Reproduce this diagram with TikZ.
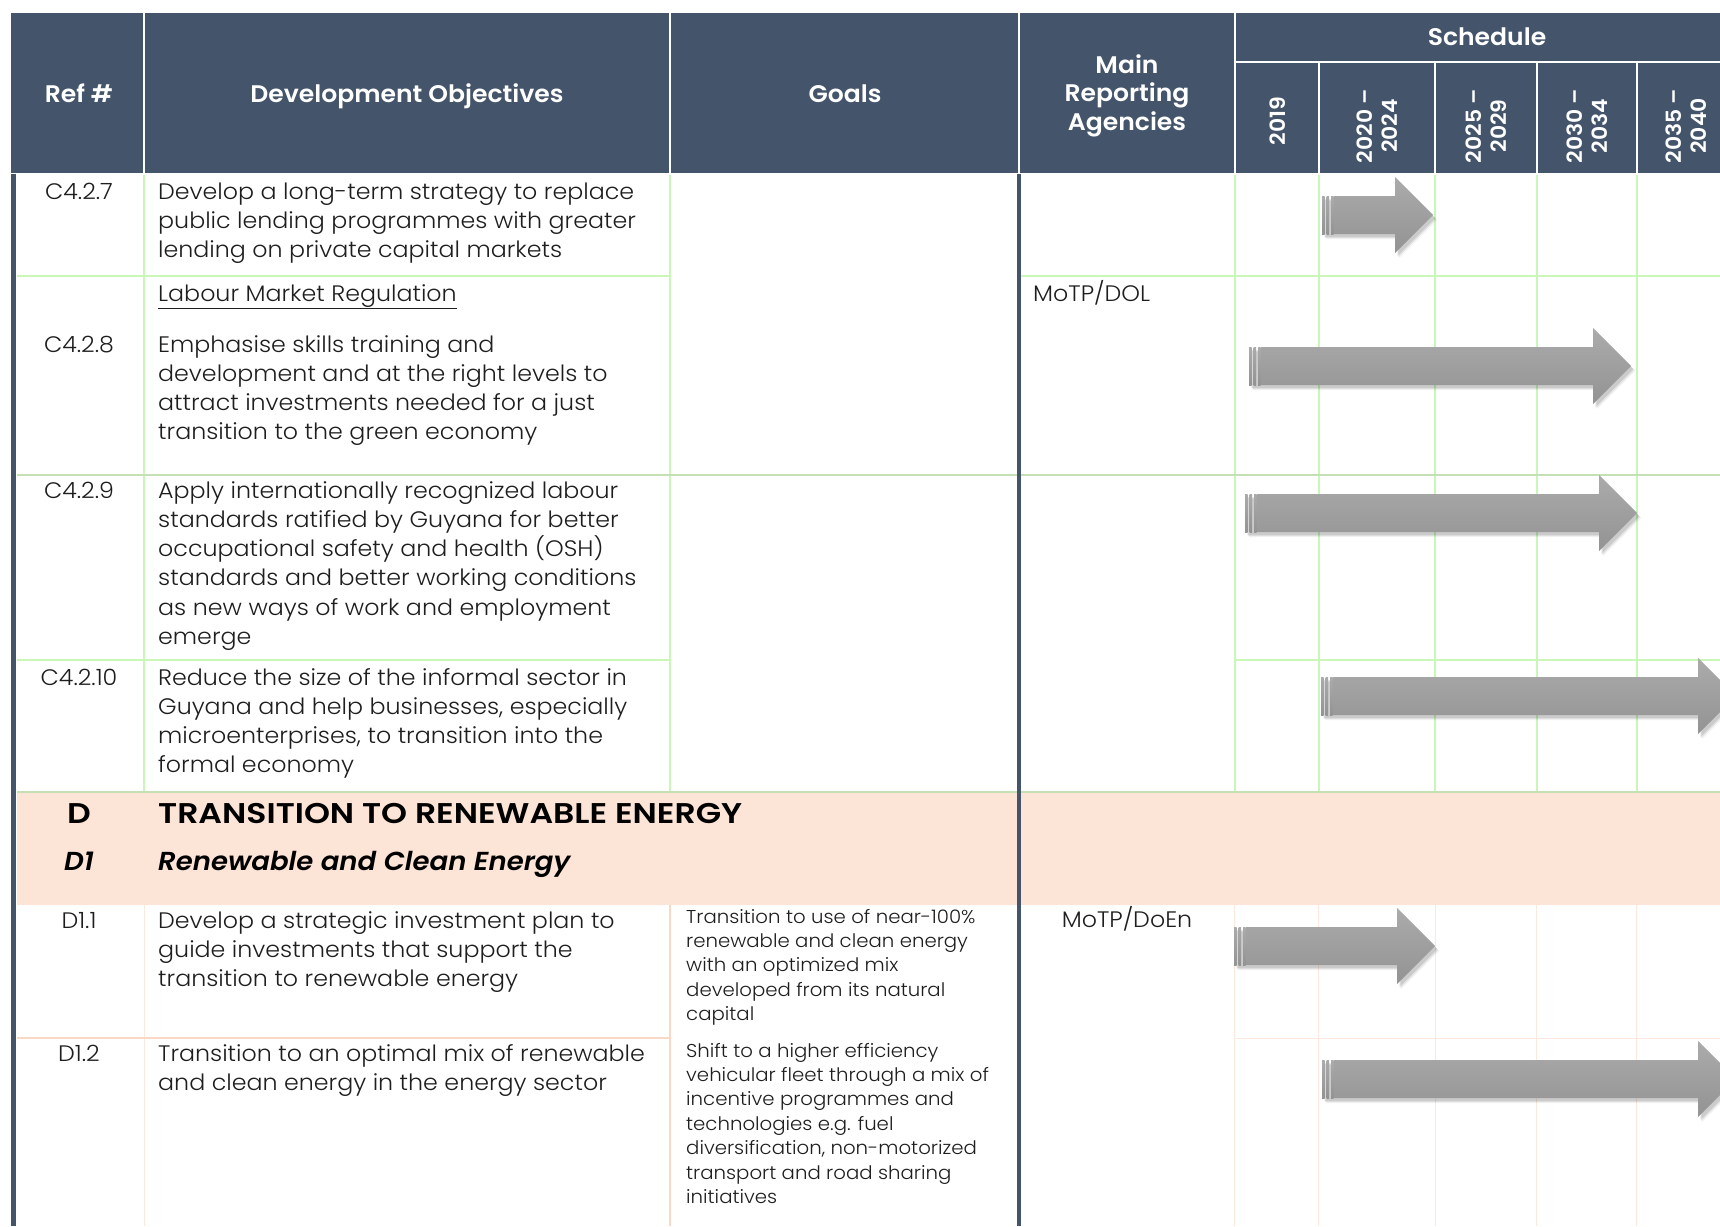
\documentclass[tikz,border=0pt]{standalone}
\usepackage{fontspec}
\usetikzlibrary{calc}
\setmainfont{Poppins}
\IfFontExistsTF{Poppins Light}{\newfontfamily\bodyfont{Poppins Light}[FakeStretch=1.06]}{\newfontfamily\bodyfont{Poppins}[FakeStretch=1.06]}
\IfFontExistsTF{Poppins SemiBold}{\newfontfamily\hdrfont{Poppins SemiBold}[FakeStretch=1.045]\newfontfamily\bandfont{Poppins SemiBold}[FakeStretch=1.16]}{\newfontfamily\hdrfont{Poppins}[UprightFont=*Bold,FakeStretch=1.045]\newfontfamily\bandfont{Poppins}[UprightFont=*Bold,FakeStretch=1.16]}
\IfFontExistsTF{Poppins SemiBold Italic}{\newfontfamily\hdritfont{Poppins SemiBold Italic}[FakeStretch=1.06]}{\newfontfamily\hdritfont{Poppins}[UprightFont=*Bold Italic,FakeStretch=1.06]}
\definecolor{hdr}{HTML}{44546A}
\definecolor{gline}{HTML}{C8F7B8}
\definecolor{gline2}{HTML}{C5E0B4}
\definecolor{band}{HTML}{FCE4D6}
\definecolor{pline}{HTML}{FCE8DC}
\definecolor{pline2}{HTML}{F9D9C4}
\definecolor{txt}{HTML}{1E1E1E}
\definecolor{arrtop}{HTML}{ABABAB}
\definecolor{arrbot}{HTML}{939393}
\newcommand\ganttarrow[3]{%
  \pgfmathsetmacro\arrlen{#2-#1}%
  \pgfmathsetmacro\arrbase{#2-#1-38}%
  \begin{scope}[shift={(#1,#3)}]
    \foreach \o/\op in {5/0.05,4/0.07,3/0.09}{
      \fill[black,opacity=\op,shift={(\o*0.8,\o)}] (0,-19) -- (\arrbase,-19) -- (\arrbase,-38) -- (\arrlen,0) -- (\arrbase,38) -- (\arrbase,19) -- (0,19) -- cycle;}
    \shade[top color=arrtop,bottom color=arrbot] (12,-19) -- (\arrbase,-19) -- (\arrbase,-38) -- (\arrlen,0) -- (\arrbase,38) -- (\arrbase,19) -- (12,19) -- cycle;
    \shade[top color=arrtop,bottom color=arrbot] (0,-19) rectangle (2.5,19);
    \shade[top color=arrtop,bottom color=arrbot] (4.5,-19) rectangle (7,19);
    \shade[top color=arrtop,bottom color=arrbot] (9,-19) rectangle (11.5,19);
  \end{scope}}
\begin{document}
\begin{tikzpicture}[x=1pt,y=-1pt,
  hl/.style={white,line width=1.5pt},
  gl/.style={gline,line width=1.5pt},
  gl2/.style={gline2,line width=1.8pt},
  pl/.style={pline,line width=1pt},
  pl2/.style={pline2,line width=1.2pt},
  hdrtxt/.style={inner sep=0pt,text=white,font=\hdrfont\fontsize{24}{28.5}\selectfont,align=center,anchor=base},
  yrtxt/.style={inner sep=0pt,text=white,font=\hdrfont\fontsize{21}{25}\selectfont,align=center,anchor=center,rotate=90},
  body/.style={inner sep=0pt,text=txt,font=\bodyfont\fontsize{22.4}{29.3}\selectfont,align=left,anchor=base west},
  reftxt/.style={inner sep=0pt,text=txt,font=\bodyfont\fontsize{22.4}{29.3}\selectfont,anchor=base},
  small/.style={inner sep=0pt,text=txt,font=\bodyfont\fontsize{18.6}{24.4}\selectfont,align=left,anchor=base west},
  bandtxt/.style={inner sep=0pt,text=black,font=\bandfont\fontsize{28.5}{30}\selectfont},
  banditxt/.style={inner sep=0pt,text=black,font=\hdritfont\fontsize{26}{30}\selectfont}]
\clip (0,0) rectangle (1720,1226);
\fill[white] (0,0) rectangle (1720,1226);
% header
\fill[hdr] (11,13) rectangle (1720,174);
\foreach \x in {144,670,1019,1235} \draw[hl] (\x,13) -- (\x,174);
\draw[hl] (1235,62) -- (1720,62);
\foreach \x in {1319,1435,1537,1637} \draw[hl] (\x,62) -- (\x,174);
\draw[white,line width=1.5pt] (11,174) -- (1720,174);
% section C grid
\foreach \x in {144,670,1235,1319,1435,1537,1637} \draw[gl] (\x,175) -- (\x,792);
\draw[gl] (17,276) -- (670,276);
\draw[gl] (1019,276) -- (1720,276);
\draw[gl2] (17,475) -- (1720,475);
\draw[gl] (17,660) -- (670,660);
\draw[gl] (1235,660) -- (1720,660);
% band
\fill[band] (17,792) rectangle (1720,905);
\draw[gl2] (17,792) -- (1720,792);
% section D grid
\foreach \x in {144,1234,1318,1435,1536,1636} \draw[pl] (\x,905) -- (\x,1226);
\draw[pl2] (670,905) -- (670,1226);
\draw[pl2] (17,1038) -- (670,1038);
\draw[pl] (1234,1038) -- (1720,1038);
% dark borders
\fill[hdr] (11,174) rectangle (16,1226);
\fill[hdr] (1016.5,174) rectangle (1021,1226);
% arrows
\ganttarrow{1322}{1433}{215}
\ganttarrow{1249}{1631}{366}
\ganttarrow{1245}{1637}{513}
\ganttarrow{1321}{1736}{696}
\ganttarrow{1234}{1435}{946}
\ganttarrow{1322}{1736}{1079}
% header texts
\node[hdrtxt] (hRef) at (79,102) {Ref \#};
\node[hdrtxt] (hDev) at (407,102) {Development Objectives};
\node[hdrtxt] (hGoals) at (845,102) {Goals};
\node[hdrtxt] (hMain) at (1127,130) {Main\\Reporting\\Agencies};
\node[hdrtxt] (hSched) at (1487,45) {Schedule};
\node[yrtxt] (y1) at (1278,121) {2019};
\node[yrtxt] (y2) at (1377,126) {2020 –\\2024};
\node[yrtxt] (y3) at (1486,126) {2025 –\\2029};
\node[yrtxt] (y4) at (1587,126) {2030 –\\2034};
\node[yrtxt] (y5) at (1686,126) {2035 –\\2040};
% refs
\node[reftxt] (r1) at (79,199) {C4.2.7};
\node[reftxt] (r2) at (79,352) {C4.2.8};
\node[reftxt] (r3) at (79,498) {C4.2.9};
\node[reftxt] (r4) at (79,685) {C4.2.10};
\node[reftxt] (r5) at (79,928) {D1.1};
\node[reftxt] (r6) at (79,1061) {D1.2};
% objectives (anchor = baseline of last line)
\node[body] (o1) at (158,257.6) {Develop a long-term strategy to replace\\public lending programmes with greater\\lending on private capital markets};
\node[body] (o2h) at (158,301) {\underline{Labour Market Regulation}};
\node[body] (o2) at (158,439.9) {Emphasise skills training and\\development and at the right levels to\\attract investments needed for a just\\transition to the green economy};
\node[body] (o3) at (158,644.5) {Apply internationally recognized labour\\standards ratified by Guyana for better\\occupational safety and health (OSH)\\standards and better working conditions\\as new ways of work and employment\\emerge};
\node[body] (o4) at (158,772.9) {Reduce the size of the informal sector in\\Guyana and help businesses, especially\\microenterprises, to transition into the\\formal economy};
\node[body] (o5) at (158,986.6) {Develop a strategic investment plan to\\guide investments that support the\\transition to renewable energy};
\node[body] (o6) at (158,1090.3) {Transition to an optimal mix of renewable\\and clean energy in the energy sector};
% band
\node[bandtxt,anchor=base] (bD) at (79,823) {D};
\node[bandtxt,anchor=base west] (bDt) at (158,823) {TRANSITION TO RENEWABLE ENERGY};
\node[banditxt,anchor=base] (bD1) at (79,870) {D1};
\node[banditxt,anchor=base west] (bD1t) at (158,870) {Renewable and Clean Energy};
% goals
\node[small] (g1) at (686,1020.6) {Transition to use of near-100\%\\renewable and clean energy\\with an optimized mix\\developed from its natural\\capital};
\node[small] (g2) at (686,1203.4) {Shift to a higher efficiency\\vehicular fleet through a mix of\\incentive programmes and\\technologies e.g. fuel\\diversification, non-motorized\\transport and road sharing\\initiatives};
% agencies
\node[body] (a1) at (1033,301) {MoTP/DOL};
\node[reftxt] (a2) at (1127,927) {MoTP/DoEn};
\end{tikzpicture}
\end{document}
